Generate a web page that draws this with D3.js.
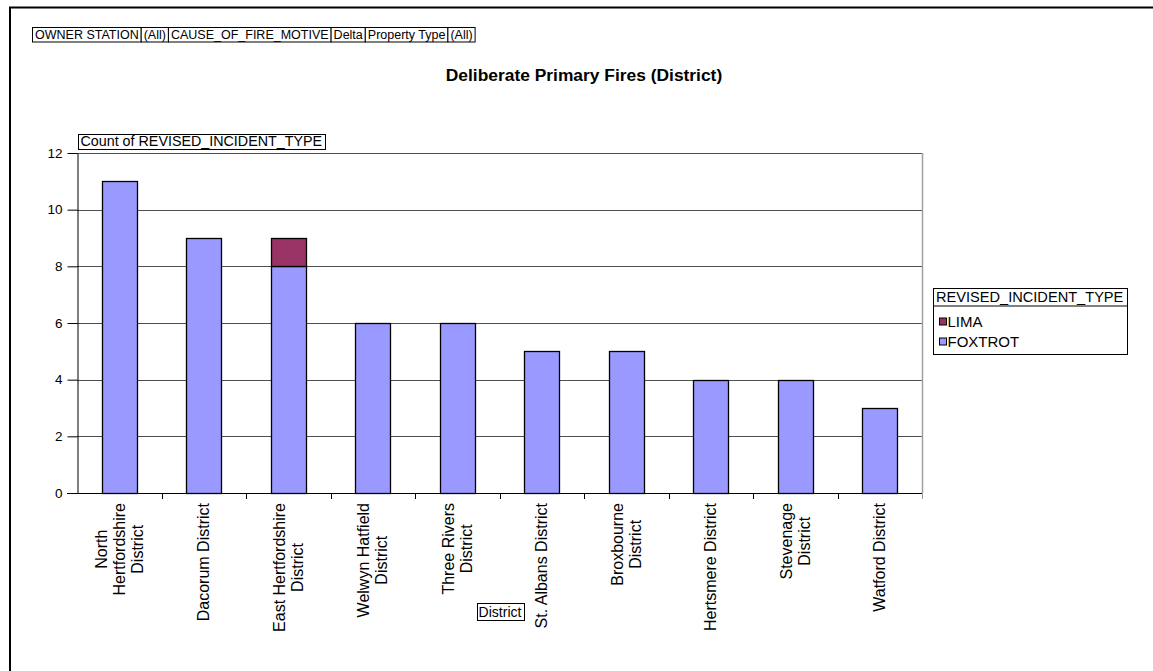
<!DOCTYPE html>
<html>
<head>
<meta charset="utf-8">
<script src="https://cdn.jsdelivr.net/npm/d3@7"></script>
<style>
  body { margin: 0; background: #fff; }
  svg text { font-family: "Liberation Sans", Arial, sans-serif; fill: #000; }
</style>
</head>
<body>
<div id="root"></div>
<script>
// chart values
var districts = ["North Hertfordshire District", "Dacorum District", "East Hertfordshire District",
    "Welwyn Hatfield District", "Three Rivers District", "St. Albans District", "Broxbourne District",
    "Hertsmere District", "Stevenage District", "Watford District"];
var tickLabels = [["North", "Hertfordshire", "District"], ["Dacorum District"], ["East Hertfordshire", "District"],
    ["Welwyn Hatfield", "District"], ["Three Rivers", "District"], ["St. Albans District"], ["Broxbourne", "District"],
    ["Hertsmere District"], ["Stevenage", "District"], ["Watford District"]];
var foxtrot = [11, 9, 8, 6, 6, 5, 5, 4, 4, 3];
var lima = [0, 0, 1, 0, 0, 0, 0, 0, 0, 0];
var seriesNames = ["LIMA", "FOXTROT"];
var seriesColors = { LIMA: "#993366", FOXTROT: "#9999ff" };
var yTicks = [0, 2, 4, 6, 8, 10, 12];
var filters = ["OWNER STATION", "(All)", "CAUSE_OF_FIRE_MOTIVE", "Delta", "Property Type", "(All)"];

var W = 1153, H = 671;
var plot = { left: 77, right: 922, top: 153, bottom: 493 };

var svg = d3.select("#root").append("svg").attr("width", W).attr("height", H);

// outer frame (runs off the right and bottom edges)
svg.append("rect").attr("x", 10).attr("y", 7.5).attr("width", 1200).attr("height", 700)
    .attr("fill", "none").attr("stroke", "#000").attr("stroke-width", 2);

// page filter boxes
var fx = 32.5;
filters.forEach(function (f) {
    var g = svg.append("g");
    var t = g.append("text").attr("x", fx + 2.5).attr("y", 38.8).style("font-size", "12.5px").text(f);
    var w = t.node().getComputedTextLength() + 5;
    g.insert("rect", "text").attr("x", fx).attr("y", 27.5).attr("width", w).attr("height", 14.5)
        .attr("fill", "#fff").attr("stroke", "#000");
    fx += w;
});

// title
svg.append("text").attr("x", 584).attr("y", 81).attr("text-anchor", "middle")
    .style("font-size", "17.4px").style("font-weight", "bold")
    .text("Deliberate Primary Fires (District)");

// scales
var x = d3.scaleBand().domain(districts).range([plot.left, plot.right]).paddingInner(0).paddingOuter(0);
var y = d3.scaleLinear().domain([0, 12]).range([plot.bottom, plot.top]);
var barW = x.bandwidth() * 0.41;

// gridlines
svg.append("g").selectAll("line").data(yTicks.filter(function (d) { return d > 0; })).enter().append("line")
    .attr("x1", plot.left).attr("x2", plot.right)
    .attr("y1", function (d) { return Math.round(y(d)) + 0.5; })
    .attr("y2", function (d) { return Math.round(y(d)) + 0.5; })
    .attr("stroke", "#505050");

// right plot edge
svg.append("line").attr("x1", plot.right + 0.5).attr("x2", plot.right + 0.5)
    .attr("y1", plot.top).attr("y2", plot.bottom).attr("stroke", "#a0a0a0").attr("stroke-width", 1.5);

// stacked bars
var stack = districts.map(function (d, i) { return { name: d, FOXTROT: foxtrot[i], LIMA: lima[i] }; });
var layers = d3.stack().keys(["FOXTROT", "LIMA"])(stack);
svg.append("g").selectAll("g").data(layers).enter().append("g")
    .attr("fill", function (l) { return seriesColors[l.key]; })
    .selectAll("rect").data(function (l) { return l.filter(function (s) { return s[1] > s[0]; }); })
    .enter().append("rect")
    .attr("x", function (s) { return Math.round(x(s.data.name) + (x.bandwidth() - barW) / 2) + 0.5; })
    .attr("width", Math.round(barW))
    .attr("y", function (s) { return Math.round(y(s[1])) + 0.5; })
    .attr("height", function (s) { return Math.round(y(s[0])) - Math.round(y(s[1])); })
    .attr("stroke", "#000").attr("stroke-width", 1.3);

// y axis
var yAxis = d3.axisLeft(y).tickValues(yTicks).tickSize(10).tickPadding(5).tickSizeOuter(0);
var yg = svg.append("g").attr("transform", "translate(" + (plot.left + 0.5) + ",0)").call(yAxis);
yg.selectAll("text").style("font-size", "13.5px");
yg.select(".domain").attr("stroke", "#000");

// x axis line and ticks between categories
var xAxisLine = svg.append("g");
xAxisLine.append("line").attr("x1", plot.left - 10).attr("x2", plot.right + 1)
    .attr("y1", plot.bottom + 0.5).attr("y2", plot.bottom + 0.5).attr("stroke", "#000");
xAxisLine.selectAll(".xt").data(districts).enter().append("line")
    .attr("x1", function (d) { return Math.round(x(d) + x.bandwidth()) + 0.5; })
    .attr("x2", function (d) { return Math.round(x(d) + x.bandwidth()) + 0.5; })
    .attr("y1", plot.bottom).attr("y2", plot.bottom + 6)
    .attr("stroke", function (d, i) { return i === districts.length - 1 ? "#a0a0a0" : "#000"; });

// rotated category labels, wrapped lines centred on each other, ending just under the axis
var lh = 18;
districts.forEach(function (d, i) {
    var lines = tickLabels[i];
    var cx = x(d) + x.bandwidth() / 2;
    var t = svg.append("text")
        .attr("transform", "translate(" + cx + "," + (plot.bottom + 10) + ") rotate(-90)")
        .attr("text-anchor", "end")
        .style("font-size", "16px");
    lines.forEach(function (ln, j) {
        t.append("tspan").attr("x", 0)
            .attr("y", (j - (lines.length - 1) / 2) * lh)
            .attr("dy", "0.35em").text(ln);
    });
    var widths = [];
    t.selectAll("tspan").each(function () { widths.push(this.getComputedTextLength()); });
    var maxW = d3.max(widths);
    t.selectAll("tspan").attr("x", function (_, j) { return -(maxW - widths[j]) / 2; });
});

// field label boxes
var cg = svg.append("g");
var ct = cg.append("text").attr("x", 80.5).attr("y", 145.5).style("font-size", "14.3px")
    .text("Count of REVISED_INCIDENT_TYPE");
var cw = ct.node().getComputedTextLength() + 5;
cg.insert("rect", "text").attr("x", 78.5).attr("y", 134.5).attr("width", Math.round(cw)).attr("height", 15)
    .attr("fill", "#fff").attr("stroke", "#000");

var dg = svg.append("g");
var dt = dg.append("text").attr("x", 500).attr("y", 617).attr("text-anchor", "middle")
    .style("font-size", "14px").text("District");
var dw = dt.node().getComputedTextLength() + 4;
dg.insert("rect", "text").attr("x", Math.round(500 - dw / 2) + 0.5).attr("y", 603.5)
    .attr("width", Math.round(dw)).attr("height", 17).attr("fill", "#fff").attr("stroke", "#000");

// legend
var lg = svg.append("g").attr("transform", "translate(933.5,288.5)");
lg.append("rect").attr("width", 194).attr("height", 66).attr("fill", "#fff").attr("stroke", "#000");
lg.append("line").attr("x1", 0).attr("x2", 194).attr("y1", 17.5).attr("y2", 17.5).attr("stroke", "#000");
lg.append("text").attr("x", 2.5).attr("y", 13.5).style("font-size", "14.6px").text("REVISED_INCIDENT_TYPE");
seriesNames.forEach(function (s, i) {
    var cy = 33.5 + i * 20;
    lg.append("rect").attr("x", 6).attr("y", cy - 4).attr("width", 7).attr("height", 7)
        .attr("fill", seriesColors[s]).attr("stroke", "#000");
    lg.append("text").attr("x", 14).attr("y", cy + 5).style("font-size", "15px").text(s);
});
</script>
</body>
</html>
